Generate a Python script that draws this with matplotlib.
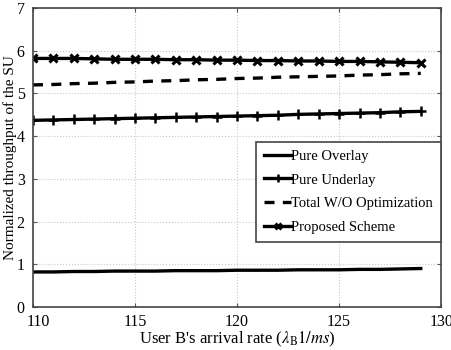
import numpy as np
import matplotlib.pyplot as plt
from matplotlib.transforms import ScaledTranslation

plt.rcParams['font.family'] = ['Liberation Serif', 'DejaVu Serif']
plt.rcParams['mathtext.fontset'] = 'stix'

rate = np.arange(110, 130)
overlay = [0.82, 0.82, 0.83, 0.83, 0.84, 0.84, 0.84, 0.85, 0.85, 0.85,
           0.86, 0.86, 0.86, 0.87, 0.87, 0.87, 0.88, 0.88, 0.89, 0.90]
underlay = [4.37, 4.38, 4.39, 4.40, 4.41, 4.42, 4.43, 4.44, 4.45, 4.46,
            4.47, 4.48, 4.49, 4.51, 4.52, 4.53, 4.54, 4.55, 4.57, 4.58]
total_wo = [5.20, 5.21, 5.23, 5.24, 5.26, 5.27, 5.29, 5.30, 5.32, 5.33,
            5.35, 5.36, 5.38, 5.39, 5.40, 5.41, 5.43, 5.44, 5.46, 5.47]
proposed = [5.82, 5.82, 5.82, 5.81, 5.80, 5.80, 5.80, 5.79, 5.79, 5.78,
            5.78, 5.77, 5.77, 5.76, 5.76, 5.75, 5.75, 5.74, 5.73, 5.72]

fig = plt.figure(figsize=(4.52, 3.5), dpi=100)
ax = fig.add_axes([0.073, 0.123, 0.903, 0.854])

ax.plot(rate, overlay, color='black', lw=2.4, label='Pure Overlay')
ax.plot(rate, underlay, color='black', lw=2.4, marker='+', ms=7, mew=1.8,
        label='Pure Underlay')
ax.plot(rate, total_wo, color='black', lw=2.4, ls=(0, (3, 2.5)),
        label='Total W/O Optimization')
ax.plot(rate, proposed, color='black', lw=2.4, marker='x', ms=5.5, mew=2.2,
        label='Proposed Scheme')

ax.set_xlim(110, 130)
ax.set_ylim(0, 7)
ax.set_xticks([110, 115, 120, 125, 130])
ax.set_yticks(range(0, 8))
ax.tick_params(direction='in', top=True, right=True, labelsize=11.5, length=3,
               color='#555555')
ax.tick_params(axis='x', pad=5)
ax.tick_params(axis='y', pad=6)
ax.grid(True, ls=':', color='#c8c8c8', lw=0.8)
for s in ax.spines.values():
    s.set_color('#444444')
    s.set_linewidth(1.2)

# first x label sits a little to the right, clear of the "0"
first = ax.get_xticklabels()[0]
first.set_transform(first.get_transform() +
                    ScaledTranslation(5 / 100, 0, fig.dpi_scale_trans))

ax.set_xlabel(r"User B's arrival rate ($\lambda_{\rm B}1/ms$)", fontsize=12,
              labelpad=0)
ax.set_ylabel('Normalized throughput of the SU', fontsize=11, labelpad=0)

leg = ax.legend(loc='upper right', bbox_to_anchor=(1.0, 0.553), fontsize=10.5,
                fancybox=False, framealpha=1, edgecolor='#444444',
                handlelength=1.8, handletextpad=0.05, borderpad=0.55,
                labelspacing=0.72, borderaxespad=0, markerscale=0.8)
leg.get_frame().set_linewidth(1.2)

fig.savefig('out.png', dpi=100)
